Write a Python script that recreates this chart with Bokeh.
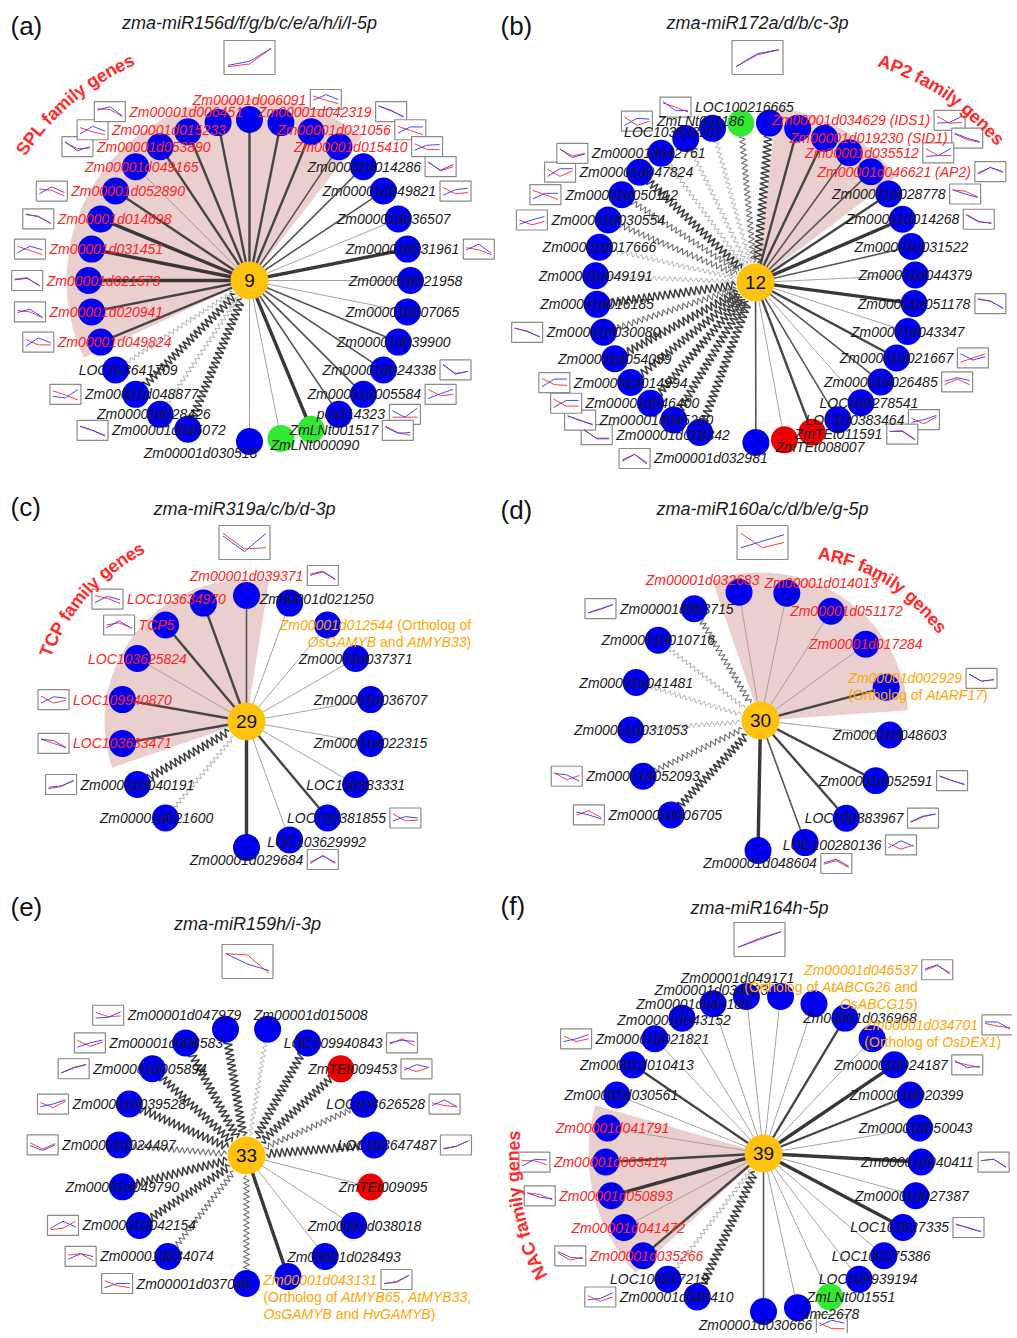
import math, bisect
from bokeh.plotting import figure
from bokeh.models import Range1d, ColumnDataSource
from bokeh.embed import file_html
from bokeh.resources import INLINE
from bokeh.core.properties import value

# ====================== DATA ======================
# (a)
A_TITLE = "zma-miR156d/f/g/b/c/e/a/h/i/l-5p"
A_HUB = "9"
A_FAMILY = "SPL family genes"
A_GENES = ["Zm00001d006091", "Zm00001d042319", "Zm00001d021056", "Zm00001d015410",
           "Zm00001d014286", "Zm00001d049821", "Zm00001d036507", "Zm00001d031961", "Zm00001d021958",
           "Zm00001d007065", "Zm00001d039900", "Zm00001d024338", "Zm00001d005584", "pco114323",
           "ZmLNt001517", "ZmLNt000090", "Zm00001d030518", "Zm00001d045072", "Zm00001d028426",
           "Zm00001d048877", "LOC103641709", "Zm00001d049824", "Zm00001d020941", "Zm00001d021573",
           "Zm00001d031451", "Zm00001d014698", "Zm00001d052890", "Zm00001d049165", "Zm00001d053890",
           "Zm00001d015233", "Zm00001d006451"]
A_TYPE = ["g"] * 14 + ["l"] * 2 + ["g"] * 15
A_LABEL = ["r"] * 4 + ["k"] * 17 + ["r"] * 10
A_EDGE = "s3 s3 s3 s2 s2 s2 s1 s4 s1 s1 s2 s2 s2 s2 s4 s1 s1 z3 z1 z3 z1 s3 s3 s4 s4 s4 s3 s1 s3 s3 s3".split()
A_HUB_RED = [0.15, 0.25, 0.85]
A_HUB_BLUE = [0.2, 0.35, 0.85]
A_RED = {"Zm00001d006091": [0.75, 0.45, 0.2], "Zm00001d042319": [0.9, 0.6, 0.1],
         "Zm00001d021056": [0.75, 0.45, 0.15], "Zm00001d015410": [0.7, 0.3, 0.3],
         "Zm00001d014286": [0.85, 0.2, 0.5], "Zm00001d049821": [0.75, 0.3, 0.4],
         "Zm00001d031961": [0.6, 0.45, 0.1], "Zm00001d024338": [0.85, 0.25, 0.4],
         "Zm00001d005584": [0.85, 0.4, 0.5], "pco114323": [0.3, 0.3, 0.3],
         "ZmLNt001517": [0.8, 0.35, 0.15], "Zm00001d045072": [0.8, 0.5, 0.15],
         "Zm00001d048877": [0.75, 0.45, 0.1], "Zm00001d049824": [0.7, 0.3, 0.3],
         "Zm00001d020941": [0.6, 0.5, 0.1], "Zm00001d021573": [0.6, 0.7, 0.1],
         "Zm00001d031451": [0.7, 0.4, 0.1], "Zm00001d014698": [0.8, 0.7, 0.15],
         "Zm00001d052890": [0.65, 0.55, 0.15], "Zm00001d053890": [0.8, 0.35, 0.4],
         "Zm00001d015233": [0.65, 0.35, 0.15], "Zm00001d006451": [0.7, 0.65, 0.15]}
A_BLUE = {"Zm00001d006091": [0.45, 0.85, 0.5], "Zm00001d042319": [0.9, 0.55, 0.15],
          "Zm00001d021056": [0.25, 0.7, 0.7], "Zm00001d015410": [0.25, 0.6, 0.65],
          "Zm00001d014286": [0.8, 0.25, 0.65], "Zm00001d049821": [0.2, 0.6, 0.7],
          "Zm00001d031961": [0.45, 0.85, 0.2], "Zm00001d024338": [0.9, 0.2, 0.4],
          "Zm00001d005584": [0.2, 0.55, 0.85], "pco114323": [0.75, 0.3, 0.95],
          "ZmLNt001517": [0.75, 0.3, 0.35], "Zm00001d045072": [0.8, 0.5, 0.1],
          "Zm00001d048877": [0.35, 0.25, 0.85], "Zm00001d049824": [0.2, 0.8, 0.45],
          "Zm00001d020941": [0.45, 0.7, 0.1], "Zm00001d021573": [0.55, 0.65, 0.15],
          "Zm00001d031451": [0.25, 0.7, 0.45], "Zm00001d014698": [0.85, 0.65, 0.2],
          "Zm00001d052890": [0.3, 0.8, 0.4], "Zm00001d053890": [0.85, 0.2, 0.5],
          "Zm00001d015233": [0.2, 0.75, 0.4], "Zm00001d006451": [0.6, 0.85, 0.2]}
A_EXTRA = {}

# (b)
B_TITLE = "zma-miR172a/d/b/c-3p"
B_HUB = "12"
B_FAMILY = "AP2 family genes"
B_GENES = ["LOC100216665", "Zm00001d034629", "Zm00001d019230", "Zm00001d035512", "Zm00001d046621",
           "Zm00001d028778", "Zm00001d014268", "Zm00001d031522", "Zm00001d044379", "Zm00001d051178",
           "Zm00001d043347", "Zm00001d021667", "Zm00001d026485", "LOC100278541", "LOC100383464",
           "ZmTEt011591", "ZmTEt008007", "Zm00001d032981",
           "Zm00001d018342", "Zm00001d045260", "Zm00001d046400", "Zm00001d014994", "Zm00001d054039",
           "Zm00001d030080", "Zm00001d016185", "Zm00001d049191", "Zm00001d017666", "Zm00001d030554",
           "Zm00001d050112", "Zm00001d047824", "Zm00001d042761", "", "LOC103633202", "ZmLNt001186"]
B_TYPE = ["g"] * 15 + ["t"] * 2 + ["g"] * 16 + ["l"]
B_LABEL = ["k"] + ["r"] * 4 + ["k"] * 29
B_EDGE = "z3 s3 s3 s2 s2 s3 s4 s2 s1 s4 s1 s3 s2 s1 s2 s3 s1 s2 z3 z3 z3 z3 z3 z2 z3 z1 z1 z2 z2 z3 z1 z1 z1 z2".split()
B_HUB_RED = [0.15, 0.6, 0.8]
B_HUB_BLUE = [0.15, 0.65, 0.8]
B_RED = {"LOC100216665": [0.8, 0.5, 0.15], "Zm00001d034629": [0.8, 0.3, 0.35],
         "Zm00001d019230": [0.8, 0.4, 0.2], "Zm00001d035512": [0.8, 0.3, 0.3],
         "Zm00001d046621": [0.3, 0.8, 0.45], "Zm00001d028778": [0.8, 0.7, 0.3],
         "Zm00001d014268": [0.8, 0.3, 0.25], "Zm00001d051178": [0.8, 0.7, 0.15],
         "Zm00001d021667": [0.2, 0.5, 0.8], "Zm00001d026485": [0.3, 0.7, 0.3],
         "LOC100383464": [0.6, 0.2, 0.7], "ZmTEt011591": [0.7, 0.75, 0.15],
         "Zm00001d032981": [0.4, 0.8, 0.2], "Zm00001d018342": [0.8, 0.25, 0.25],
         "Zm00001d045260": [0.8, 0.5, 0.15], "Zm00001d046400": [0.8, 0.3, 0.3],
         "Zm00001d014994": [0.8, 0.35, 0.3], "Zm00001d030080": [0.8, 0.6, 0.15],
         "Zm00001d030554": [0.5, 0.15, 0.4], "Zm00001d050112": [0.8, 0.5, 0.15],
         "Zm00001d047824": [0.7, 0.2, 0.6], "Zm00001d042761": [0.8, 0.3, 0.5],
         "ZmLNt001186": [0.8, 0.2, 0.5]}
B_BLUE = {"LOC100216665": [0.9, 0.25, 0.25], "Zm00001d034629": [0.3, 0.35, 0.8],
          "Zm00001d019230": [0.85, 0.5, 0.25], "Zm00001d035512": [0.25, 0.3, 0.8],
          "Zm00001d046621": [0.4, 0.8, 0.5], "Zm00001d028778": [0.8, 0.5, 0.25],
          "Zm00001d014268": [0.85, 0.35, 0.2], "Zm00001d051178": [0.85, 0.65, 0.2],
          "Zm00001d021667": [0.8, 0.35, 0.6], "Zm00001d026485": [0.55, 0.8, 0.6],
          "LOC100383464": [0.3, 0.5, 0.8], "ZmTEt011591": [0.7, 0.7, 0.1],
          "Zm00001d032981": [0.3, 0.8, 0.1], "Zm00001d018342": [0.85, 0.2, 0.2],
          "Zm00001d045260": [0.8, 0.45, 0.2], "Zm00001d046400": [0.2, 0.7, 0.7],
          "Zm00001d014994": [0.2, 0.75, 0.75], "Zm00001d030080": [0.8, 0.55, 0.2],
          "Zm00001d030554": [0.2, 0.5, 0.75], "Zm00001d050112": [0.2, 0.6, 0.6],
          "Zm00001d047824": [0.2, 0.75, 0.75], "Zm00001d042761": [0.8, 0.2, 0.45],
          "ZmLNt001186": [0.2, 0.7, 0.65]}
B_EXTRA = {"Zm00001d034629": {"suffix": [(" (IDS1)", True)]},
           "Zm00001d019230": {"suffix": [(" (SID1)", True)]},
           "Zm00001d046621": {"suffix": [(" (AP2)", True)]}}

# (c)
C_TITLE = "zma-miR319a/c/b/d-3p"
C_HUB = "29"
C_FAMILY = "TCP family genes"
C_GENES = ["Zm00001d039371", "Zm00001d021250", "Zm00001d012544", "Zm00001d037371", "Zm00001d036707",
           "Zm00001d022315", "LOC100383331", "LOC100381855", "LOC103629992", "Zm00001d029684",
           "Zm00001d021600", "Zm00001d040191", "LOC103633471", "LOC109940870", "LOC103625824",
           "TCP5", "LOC103634970"]
C_TYPE = ["g"] * 17
C_LABEL = ["r", "k", "o"] + ["k"] * 9 + ["r"] * 5
C_EDGE = "s2 s1 s1 s1 s1 s1 s1 s3 s1 s4 z1 z3 s3 s3 s1 s3 s3".split()
C_HUB_RED = [0.85, 0.25, 0.3]
C_HUB_BLUE = [0.75, 0.15, 0.85]
C_RED = {"Zm00001d039371": [0.5, 0.75, 0.2], "LOC103634970": [0.75, 0.55, 0.2],
         "TCP5": [0.5, 0.65, 0.3], "LOC109940870": [0.75, 0.25, 0.45],
         "LOC103633471": [0.8, 0.5, 0.2], "Zm00001d040191": [0.2, 0.35, 0.8],
         "Zm00001d029684": [0.2, 0.8, 0.2], "LOC100381855": [0.8, 0.3, 0.35]}
C_BLUE = {"Zm00001d039371": [0.6, 0.8, 0.25], "LOC103634970": [0.25, 0.7, 0.45],
          "TCP5": [0.3, 0.8, 0.25], "LOC109940870": [0.25, 0.7, 0.6],
          "LOC103633471": [0.8, 0.7, 0.2], "Zm00001d040191": [0.3, 0.4, 0.75],
          "Zm00001d029684": [0.3, 0.75, 0.3], "LOC100381855": [0.3, 0.6, 0.5]}
C_EXTRA = {"Zm00001d012544": {"suffix": [(" (Ortholog of", False)],
                              "lines": [[("OsGAMYB", True), (" and ", False), ("AtMYB33", True), (")", False)]],
                              "align": "right"}}

# (d)
D_TITLE = "zma-miR160a/c/d/b/e/g-5p"
D_HUB = "30"
D_FAMILY = "ARF family genes"
D_GENES = ["Zm00001d032683", "Zm00001d014013", "Zm00001d051172", "Zm00001d017284", "Zm00001d002929",
           "Zm00001d048603", "Zm00001d052591", "LOC100383967", "LOC100280136", "Zm00001d048604",
           "Zm00001d006705", "Zm00001d052093", "Zm00001d031053", "Zm00001d041481", "Zm00001d010716",
           "Zm00001d053715"]
D_TYPE = ["g"] * 16
D_LABEL = ["r"] * 4 + ["o"] + ["k"] * 11
D_EDGE = "s1 s1 s1 s1 s3 s1 s3 s3 s2 s4 z3 z2 z1 z1 z1 z2".split()
D_HUB_RED = [0.85, 0.3, 0.5]
D_HUB_BLUE = [0.3, 0.55, 0.8]
D_RED = {"Zm00001d053715": [0.2, 0.45, 0.8], "Zm00001d052093": [0.75, 0.25, 0.55],
         "Zm00001d006705": [0.5, 0.8, 0.3], "Zm00001d048604": [0.45, 0.7, 0.2],
         "LOC100280136": [0.6, 0.2, 0.5], "LOC100383967": [0.2, 0.6, 0.8],
         "Zm00001d052591": [0.8, 0.5, 0.2], "Zm00001d002929": [0.8, 0.3, 0.4]}
D_BLUE = {"Zm00001d053715": [0.2, 0.5, 0.8], "Zm00001d052093": [0.7, 0.6, 0.15],
          "Zm00001d006705": [0.7, 0.5, 0.2], "Zm00001d048604": [0.55, 0.8, 0.3],
          "LOC100280136": [0.3, 0.8, 0.4], "LOC100383967": [0.25, 0.65, 0.8],
          "Zm00001d052591": [0.85, 0.5, 0.25], "Zm00001d002929": [0.8, 0.3, 0.4]}
D_EXTRA = {"Zm00001d002929": {"lines": [[("(Ortholog of ", False), ("AtARF17", True), (")", False)]],
                              "align": "left"}}

# (e)
E_TITLE = "zma-miR159h/i-3p"
E_HUB = "33"
E_FAMILY = None
E_GENES = ["Zm00001d015008", "LOC109940843", "ZmTEt009453", "LOC103626528", "LOC103647487",
           "ZmTEt009095", "Zm00001d038018", "Zm00001d028493", "Zm00001d043131", "Zm00001d037045",
           "Zm00001d034074", "Zm00001d042154", "Zm00001d049790", "Zm00001d024497", "Zm00001d039528",
           "Zm00001d005894", "Zm00001d008583", "Zm00001d047979"]
E_TYPE = ["g", "g", "t", "g", "g", "t"] + ["g"] * 12
E_LABEL = ["k"] * 8 + ["o"] + ["k"] * 9
E_EDGE = "z1 z3 z3 z2 z3 s1 s1 s1 s4 z2 z2 z3 z3 z2 z3 z3 z3 z3".split()
E_HUB_RED = [0.8, 0.75, 0.05]
E_HUB_BLUE = [0.8, 0.4, 0.15]
E_RED = {"Zm00001d047979": [0.7, 0.4, 0.45], "Zm00001d008583": [0.7, 0.25, 0.55],
         "Zm00001d005894": [0.2, 0.55, 0.8], "Zm00001d039528": [0.6, 0.25, 0.7],
         "Zm00001d024497": [0.65, 0.2, 0.6], "Zm00001d042154": [0.2, 0.3, 0.8],
         "Zm00001d034074": [0.6, 0.7, 0.2], "Zm00001d037045": [0.7, 0.35, 0.2],
         "Zm00001d043131": [0.2, 0.3, 0.8], "LOC103647487": [0.2, 0.4, 0.8],
         "LOC103626528": [0.6, 0.4, 0.3], "ZmTEt009453": [0.6, 0.3, 0.6],
         "LOC109940843": [0.4, 0.8, 0.3]}
E_BLUE = {"Zm00001d047979": [0.3, 0.35, 0.75], "Zm00001d008583": [0.2, 0.5, 0.7],
          "Zm00001d005894": [0.2, 0.6, 0.8], "Zm00001d039528": [0.3, 0.5, 0.8],
          "Zm00001d024497": [0.45, 0.1, 0.5], "Zm00001d042154": [0.3, 0.8, 0.4],
          "Zm00001d034074": [0.3, 0.7, 0.5], "Zm00001d037045": [0.2, 0.5, 0.5],
          "Zm00001d043131": [0.2, 0.35, 0.8], "LOC103647487": [0.25, 0.4, 0.8],
          "LOC103626528": [0.4, 0.8, 0.3], "ZmTEt009453": [0.4, 0.8, 0.6],
          "LOC109940843": [0.5, 0.7, 0.6]}
E_EXTRA = {"Zm00001d043131": {"lines": [[("(Ortholog of ", False), ("AtMYB65", True), (", ", False),
                                         ("AtMYB33", True), (",", False)],
                                        [("OsGAMYB", True), (" and ", False), ("HvGAMYB", True), (")", False)]],
                              "align": "left"}}

# (f)
F_TITLE = "zma-miR164h-5p"
F_HUB = "39"
F_FAMILY = "NAC family genes"
F_GENES = ["Zm00001d049171", "Zm00001d046537", "Zm00001d036968", "Zm00001d034701", "Zm00001d024187",
           "Zm00001d020399", "Zm00001d050043", "Zm00001d040411", "Zm00001d027387", "LOC103627335",
           "LOC100275386", "LOC109939194", "ZmLNt001551", "umc2678", "Zm00001d030666",
           "Zm00001d042410", "LOC100217219", "Zm00001d035266", "Zm00001d041472", "Zm00001d050893",
           "Zm00001d003414", "Zm00001d041791", "Zm00001d030561", "Zm00001d010413", "Zm00001d021821",
           "Zm00001d043152", "Zm00001d043180", "Zm00001d034023"]
F_TYPE = ["g"] * 12 + ["l"] + ["g"] * 15
F_LABEL = ["k", "o", "k", "o"] + ["k"] * 13 + ["r"] * 5 + ["k"] * 6
F_EDGE = "s1 s1 s3 s1 s4 s3 s1 s4 s1 s4 s1 s1 s1 s1 s2 z3 z1 s3 s1 s4 s3 s1 s1 s3 s1 s1 s1 s1".split()
F_HUB_RED = [0.2, 0.55, 0.8]
F_HUB_BLUE = [0.2, 0.5, 0.8]
F_RED = {"Zm00001d046537": [0.45, 0.8, 0.3], "Zm00001d034701": [0.6, 0.4, 0.3],
         "Zm00001d024187": [0.7, 0.5, 0.3], "Zm00001d040411": [0.6, 0.7, 0.1],
         "LOC103627335": [0.7, 0.5, 0.2], "Zm00001d030666": [0.6, 0.2, 0.2],
         "Zm00001d042410": [0.6, 0.2, 0.5], "Zm00001d035266": [0.7, 0.2, 0.4],
         "Zm00001d050893": [0.7, 0.6, 0.2], "Zm00001d003414": [0.6, 0.6, 0.3],
         "Zm00001d021821": [0.7, 0.3, 0.5]}
F_BLUE = {"Zm00001d046537": [0.55, 0.85, 0.2], "Zm00001d034701": [0.7, 0.7, 0.2],
          "Zm00001d024187": [0.8, 0.3, 0.4], "Zm00001d040411": [0.6, 0.7, 0.15],
          "LOC103627335": [0.75, 0.45, 0.2], "Zm00001d030666": [0.4, 0.8, 0.6],
          "Zm00001d042410": [0.3, 0.4, 0.8], "Zm00001d035266": [0.8, 0.4, 0.3],
          "Zm00001d050893": [0.7, 0.4, 0.3], "Zm00001d003414": [0.2, 0.7, 0.65],
          "Zm00001d021821": [0.3, 0.5, 0.8]}
F_EXTRA = {"Zm00001d046537": {"lines": [[("(Ortholog of ", False), ("AtABCG26", True), (" and", False)],
                                        [("OsABCG15", True), (")", False)]],
                              "align": "right"},
           "Zm00001d034701": {"lines": [[("(Ortholog of ", False), ("OsDEX1", True), (")", False)]],
                              "align": "left"}}

PANELS = [
    ("a", A_TITLE, A_HUB, A_FAMILY, A_GENES, A_TYPE, A_LABEL, A_EDGE, A_RED, A_BLUE, A_HUB_RED, A_HUB_BLUE, A_EXTRA),
    ("b", B_TITLE, B_HUB, B_FAMILY, B_GENES, B_TYPE, B_LABEL, B_EDGE, B_RED, B_BLUE, B_HUB_RED, B_HUB_BLUE, B_EXTRA),
    ("c", C_TITLE, C_HUB, C_FAMILY, C_GENES, C_TYPE, C_LABEL, C_EDGE, C_RED, C_BLUE, C_HUB_RED, C_HUB_BLUE, C_EXTRA),
    ("d", D_TITLE, D_HUB, D_FAMILY, D_GENES, D_TYPE, D_LABEL, D_EDGE, D_RED, D_BLUE, D_HUB_RED, D_HUB_BLUE, D_EXTRA),
    ("e", E_TITLE, E_HUB, E_FAMILY, E_GENES, E_TYPE, E_LABEL, E_EDGE, E_RED, E_BLUE, E_HUB_RED, E_HUB_BLUE, E_EXTRA),
    ("f", F_TITLE, F_HUB, F_FAMILY, F_GENES, F_TYPE, F_LABEL, F_EDGE, F_RED, F_BLUE, F_HUB_RED, F_HUB_BLUE, F_EXTRA),
]

# ====================== LAYOUT (circular layout parameters, screen px) ======================
LAYOUT = {
    "a": dict(cx=249, cy=280, R=161, slots=32, gap=17, off=0.0, latR=-5, latL=15, title=(249, 22), box_top=40,
              letter=(10, 25), wedge=(245, 38, 183), arc=(262, 250, -61, -28)),
    "b": dict(cx=755, cy=282, R=160, slots=35, gap=18, off=5.0, latR=0, latL=0, title=(757, 22), box_top=40,
              letter=(500, 25), wedge=(7, 53, 176), arc=(254, 280, 29, 57.5)),
    "c": dict(cx=246, cy=721, R=126, slots=18, gap=10, off=0.0, latR=0, latL=0, title=(244, 508), box_top=525,
              letter=(10, 506), wedge=(251, 369, 142), arc=(212, 203, -72, -31.5)),
    "d": dict(cx=760, cy=720, R=130, slots=17, gap=10, off=-9.5, latR=0, latL=0, title=(762, 508), box_top=525,
              letter=(500, 509), wedge=(-19, 86, 148), arc=(177, 201, 19, 60)),
    "e": dict(cx=246, cy=1155, R=128, slots=19, gap=10, off=9.5, latR=13, latL=0, title=(247, 923), box_top=944,
              letter=(10, 906), wedge=None, arc=None),
    "f": dict(cx=763, cy=1153, R=158, slots=29, gap=15, off=6.2, latR=-4, latL=5, title=(759, 907), box_top=922,
              letter=(500, 905), wedge=(227, 286, 175), arc=(254, 250, 240.5, 276.2)),
}
LABEL_NUDGE = {
    ("b", "LOC100216665"): (-25, -16, "L"), ("b", "ZmLNt001186"): (-40, -2, "L"),
    ("b", "LOC103633202"): (-39, 4, "L"), ("b", "Zm00001d032981"): (-45, 16, "L"),
    ("a", "Zm00001d030518"): (-49, 11, "R"), ("e", "Zm00001d037045"): (-53, 0, "L"),
    ("e", "Zm00001d047979"): (-41, -14, "L"), ("e", "Zm00001d015008"): (43, -14, "R"),
    ("f", "Zm00001d049171"): (-43, -18, "R"), ("f", "Zm00001d034023"): (-35, -6, "L"),
    ("f", "Zm00001d043180"): (-20, 0, "L"), ("f", "Zm00001d043152"): (-8, 2, "L"),
    ("f", "Zm00001d046537"): (47, -34, "R"), ("f", "Zm00001d034701"): (49, -14, "R"),
    ("f", "Zm00001d030666"): (-8, 13, "R"), ("d", "Zm00001d002929"): (19, -9, "R"),
    ("d", "Zm00001d048604"): (2, 13, "R"),
}

FONT = "Liberation Sans"
LAB_SIZE = 14
FAM_SIZE = 18
NODE_COL = {"g": "#0000ee", "l": "#33e833", "t": "#ee0000"}
TXT_COL = {"k": "#1a1a1a", "r": "#ff2222", "o": "#ffa500"}
EDGE_STYLE = {"s1": (0.9, "#9a9a9a"), "s2": (1.6, "#555555"), "s3": (2.4, "#454545"), "s4": (3.4, "#383838"),
              "z1": (0.8, "#a0a0a0"), "z2": (1.1, "#707070"), "z3": (1.5, "#404040")}
ZAMP = {"z1": 2.2, "z2": 3.0, "z3": 4.2}

AR = {' ': 278, '(': 333, ')': 333, '-': 333, '/': 278, ',': 278, '.': 278}
for ch in "0123456789":
    AR[ch] = 556
AR.update({'A': 667, 'B': 667, 'C': 722, 'D': 722, 'E': 667, 'F': 611, 'G': 778, 'H': 722, 'I': 278, 'J': 500,
           'K': 667, 'L': 556, 'M': 833, 'N': 722, 'O': 778, 'P': 667, 'Q': 778, 'R': 722, 'S': 667, 'T': 611,
           'U': 722, 'V': 667, 'W': 944, 'X': 667, 'Y': 667, 'Z': 611,
           'a': 556, 'b': 556, 'c': 500, 'd': 556, 'e': 556, 'f': 278, 'g': 556, 'h': 556, 'i': 222, 'j': 222,
           'k': 500, 'l': 222, 'm': 833, 'n': 556, 'o': 556, 'p': 556, 'q': 556, 'r': 333, 's': 500, 't': 278,
           'u': 556, 'v': 500, 'w': 722, 'x': 500, 'y': 500, 'z': 500})
AB = {' ': 278, 'A': 722, 'C': 722, 'F': 611, 'L': 611, 'N': 722, 'P': 667, 'R': 722, 'S': 667, 'T': 611,
      '2': 556, 'a': 556, 'e': 556, 'f': 333, 'g': 611, 'i': 278, 'l': 278, 'm': 889, 'n': 611, 's': 556, 'y': 556}


def tw(s, size, table=AR):
    return sum(table.get(c, 556) for c in s) * size / 1000.0


def label_offset(th, latR, latL):
    t = th % 360
    s = math.sin(math.radians(t))
    sg = 0 if abs(s) < 1e-6 else (1 if s > 0 else -1)
    ptop = min(t, 360 - t)
    pbot = abs(180 - t)
    dx = latR * s if s > 0 else latL * (-s)
    dy = 0.0
    if ptop < 50:
        dx += 45 * sg * (1 - ptop / 50)
    elif pbot < 50:
        dx += 45 * sg * (1 - pbot / 50)
    if ptop < 25:
        dy = -20 * (1 - ptop / 25)
    elif pbot < 25:
        dy = 12 * (1 - pbot / 25)
    return dx, dy


# collections
wedges = dict(x=[], y=[], r=[], sa=[], ea=[])
edges = {k: ([], []) for k in EDGE_STYLE}
nodes = dict(x=[], y=[], c=[])
hubs = dict(x=[], y=[], t=[])
lab_c = dict(x=[], y=[], t=[], c=[])
seg_i = dict(x=[], y=[], t=[], c=[])
seg_n = dict(x=[], y=[], t=[], c=[])
boxes = dict(l=[], r=[], t=[], b=[])
tr_red = ([], [])
tr_blue = ([], [])
fam = dict(x=[], y=[], t=[], a=[])
titles = dict(x=[], y=[], t=[])
letters = dict(x=[], y=[], t=[])


def add_seg(x, y, txt, italic, col):
    """place a text segment starting at x; spaces are converted to offsets (SVG trims them)."""
    lead = len(txt) - len(txt.lstrip(" "))
    core = txt.strip(" ")
    d = seg_i if italic else seg_n
    d["x"].append(x + tw(" " * lead, LAB_SIZE)); d["y"].append(-y); d["t"].append(core); d["c"].append(col)
    return x + tw(txt, LAB_SIZE)


def add_thumb(x0, yc, w, h, red, blue, m):
    boxes["l"].append(x0); boxes["r"].append(x0 + w)
    boxes["t"].append(-(yc - h / 2)); boxes["b"].append(-(yc + h / 2))
    xs = [x0 + m, x0 + w / 2, x0 + w - m]
    for vals, store in ((red, tr_red), (blue, tr_blue)):
        store[0].append(xs)
        store[1].append([-(yc + h / 2 - m - v * (h - 2 * m)) for v in vals])


def zigzag(x0, y0, x1, y1, amp, half=2.6):
    L = math.hypot(x1 - x0, y1 - y0)
    n = max(2, int(L / half))
    ux, uy = (x1 - x0) / L, (y1 - y0) / L
    nx, ny = -uy, ux
    xs, ys = [], []
    for i in range(n + 1):
        t = i / n
        o = 0 if i in (0, n) else amp * (1 if i % 2 else -1)
        xs.append(x0 + ux * L * t + nx * o)
        ys.append(-(y0 + uy * L * t + ny * o))
    return xs, ys


def arc_chars(cx, cy, r0, r1, t0, t1, text, size):
    N = 800
    pts = []
    for i in range(N + 1):
        u = 1.6 * i / N
        th = math.radians(t0 + (t1 - t0) * u)
        r = r0 + (r1 - r0) * u
        pts.append((cx + r * math.sin(th), cy - r * math.cos(th)))
    cum = [0.0]
    for i in range(1, len(pts)):
        cum.append(cum[-1] + math.hypot(pts[i][0] - pts[i - 1][0], pts[i][1] - pts[i - 1][1]))
    s = 0.0
    for ch in text:
        idx = min(bisect.bisect_left(cum, s), len(pts) - 2)
        (xa, ya), (xb, yb) = pts[idx], pts[idx + 1]
        ang = math.atan2(-(yb - ya), xb - xa)
        if ch != " ":
            fam["x"].append(xa); fam["y"].append(-ya); fam["t"].append(ch); fam["a"].append(ang)
        s += AB.get(ch, 556) * size / 1000.0


for (key, title, hub, family, genes, types, labcols, edgetypes, red, blue, hred, hblue, extra) in PANELS:
    L = LAYOUT[key]
    cx, cy, R = L["cx"], L["cy"], L["R"]
    step = 360.0 / L["slots"]
    slots = [k for k in range(L["slots"]) if k != L["gap"]]
    if L["wedge"]:
        ta, tb, wr = L["wedge"]
        wedges["x"].append(cx); wedges["y"].append(-cy); wedges["r"].append(wr)
        wedges["sa"].append(math.radians(90 - ta)); wedges["ea"].append(math.radians(90 - tb))
    if family:
        r0, r1, t0, t1 = L["arc"]
        arc_chars(cx, cy, r0, r1, t0, t1, family, FAM_SIZE)
    titles["x"].append(L["title"][0]); titles["y"].append(-L["title"][1]); titles["t"].append(title)
    letters["x"].append(L["letter"][0]); letters["y"].append(-L["letter"][1]); letters["t"].append("(%s)" % key)
    add_thumb(L["title"][0] - 25.5, L["box_top"] + 17, 51, 34, hred, hblue, 4)
    hubs["x"].append(cx); hubs["y"].append(-cy); hubs["t"].append(hub)

    for i, g in enumerate(genes):
        th = L["off"] + slots[i] * step
        rad = math.radians(th)
        x, y = cx + R * math.sin(rad), cy - R * math.cos(rad)
        et = edgetypes[i]
        if et.startswith("s"):
            edges[et][0].append([cx, x]); edges[et][1].append([-cy, -y])
        else:
            ux, uy = math.sin(rad), -math.cos(rad)
            xs, ys = zigzag(cx + 20 * ux, cy + 20 * uy, x - 11 * ux, y - 11 * uy, ZAMP[et])
            edges[et][0].append(xs); edges[et][1].append(ys)
        nodes["x"].append(x); nodes["y"].append(-y); nodes["c"].append(NODE_COL[types[i]])
        if not g:
            continue
        dx, dy = label_offset(th, L["latR"], L["latL"])
        side = "R" if math.sin(rad) > -0.05 else "L"
        if (key, g) in LABEL_NUDGE:
            dx, dy, side = LABEL_NUDGE[(key, g)]
        lx, ly = x + dx, y + dy
        col = TXT_COL[labcols[i]]
        lab_c["x"].append(lx); lab_c["y"].append(-ly); lab_c["t"].append(g); lab_c["c"].append(col)
        wg = tw(g, LAB_SIZE)
        left = lx - wg / 2
        end = lx + wg / 2
        ex = extra.get(g)
        if ex:
            for (txt, it) in ex.get("suffix", []):
                end = add_seg(end, ly, txt, it, col)
            for j, line in enumerate(ex.get("lines", [])):
                wl = sum(tw(t, LAB_SIZE) for t, _ in line)
                xx = left if ex.get("align") == "left" else end - wl
                yy = ly + 17 * (j + 1)
                for (txt, it) in line:
                    xx = add_seg(xx, yy, txt, it, col)
        if g in red:
            bx = end + 4 if side == "R" else left - 4 - 31
            add_thumb(bx, ly, 31, 20, red[g], blue[g], 3)

# ====================== PLOT ======================
# the plot sits at the page's top-left corner: data coordinates = picture pixels
W, H = 1012, 1333
p = figure(width=W, height=H, x_range=Range1d(0, W), y_range=Range1d(-H, 0),
           output_backend="svg", toolbar_location=None, x_axis_type=None, y_axis_type=None, min_border=0)
p.grid.visible = False
p.outline_line_color = None
p.background_fill_color = "white"
p.border_fill_color = "white"

p.wedge(x="x", y="y", radius="r", start_angle="sa", end_angle="ea", direction="clock",
        source=ColumnDataSource(wedges), fill_color="#ebcfcf", line_color=None)
for et, (xs, ys) in edges.items():
    if xs:
        w, c = EDGE_STYLE[et]
        p.multi_line(xs, ys, line_width=w, line_color=c)
p.scatter(x="x", y="y", size=27, fill_color="c", line_color=None, source=ColumnDataSource(nodes))
p.scatter(x="x", y="y", size=38, fill_color="#ffc20e", line_color=None, source=ColumnDataSource(hubs))
p.text(x="x", y="y", text="t", source=ColumnDataSource(hubs), text_font=value(FONT), text_font_size="19px",
       text_align="center", text_baseline="middle", text_color="#111111")

p.quad(left="l", right="r", top="t", bottom="b", source=ColumnDataSource(boxes),
       fill_color="white", line_color="#8a8a8a", line_width=1.2)
p.multi_line(tr_red[0], tr_red[1], line_color="#ff3b3b", line_width=1)
p.multi_line(tr_blue[0], tr_blue[1], line_color="#4646ff", line_width=1)

p.text(x="x", y="y", text="t", text_color="c", source=ColumnDataSource(lab_c), text_font=value(FONT),
       text_font_style="italic", text_font_size="%dpx" % LAB_SIZE, text_align="center", text_baseline="middle")
p.text(x="x", y="y", text="t", text_color="c", source=ColumnDataSource(seg_i), text_font=value(FONT),
       text_font_style="italic", text_font_size="%dpx" % LAB_SIZE, text_align="left", text_baseline="middle")
p.text(x="x", y="y", text="t", text_color="c", source=ColumnDataSource(seg_n), text_font=value(FONT),
       text_font_style="normal", text_font_size="%dpx" % LAB_SIZE, text_align="left", text_baseline="middle")
p.text(x="x", y="y", text="t", angle="a", source=ColumnDataSource(fam), text_font=value(FONT),
       text_font_style="bold", text_font_size="%dpx" % FAM_SIZE, text_align="left",
       text_baseline="alphabetic", text_color="#ff2a2a")
p.text(x="x", y="y", text="t", source=ColumnDataSource(titles), text_font=value(FONT),
       text_font_style="italic", text_font_size="18px", text_align="center", text_baseline="middle",
       text_color="#1a1a1a")
p.text(x="x", y="y", text="t", source=ColumnDataSource(letters), text_font=value(FONT),
       text_font_size="26px", text_align="left", text_baseline="middle", text_color="#111111")

open("out.html", "w").write(file_html(p, INLINE))
